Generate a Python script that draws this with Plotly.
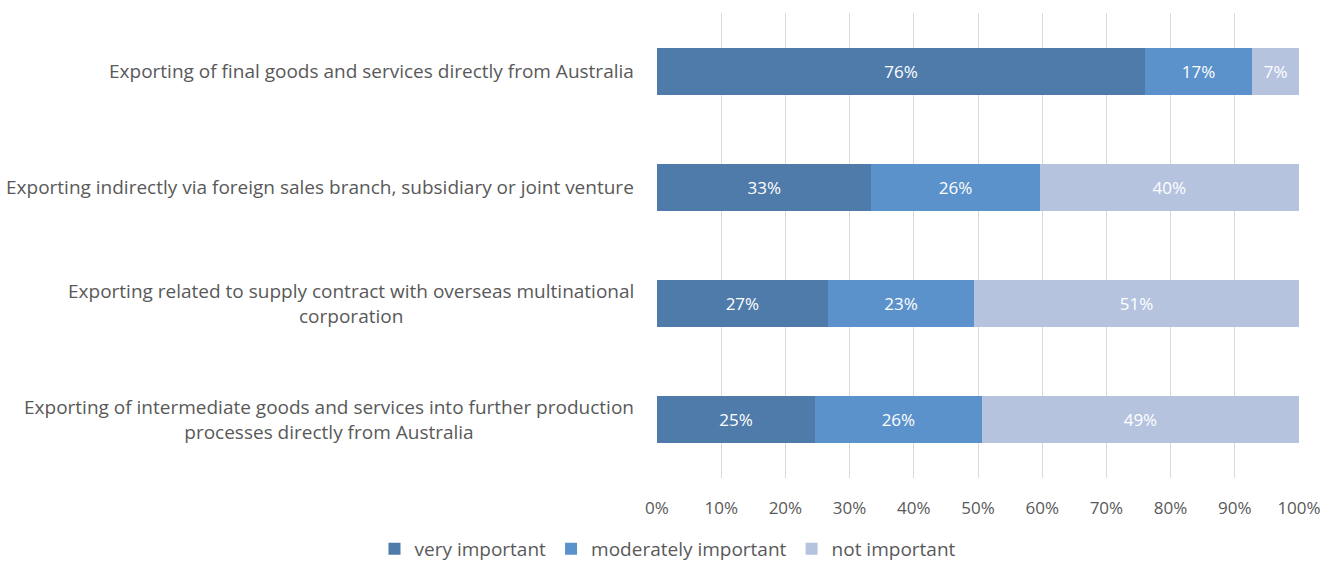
import plotly.graph_objects as go

# Export modes, top to bottom
categories = [
    "Exporting of final goods and services directly from Australia",
    "Exporting indirectly via foreign sales branch, subsidiary or joint venture",
    "Exporting related to supply contract with overseas multinational<br>corporation",
    "Exporting of intermediate goods and services into further production<br>processes directly from Australia",
]

# Share of respondents (%) per importance level
very_important = [76.0, 33.4, 26.6, 24.6]
moderately_important = [16.7, 26.2, 22.8, 26.0]
not_important = [7.3, 40.4, 50.6, 49.4]

series = [
    ("very important", very_important, "#4f7bab"),
    ("moderately important", moderately_important, "#5b92cb"),
    ("not important", not_important, "#b5c3df"),
]

ticks = [0, 10, 20, 30, 40, 50, 60, 70, 80, 90, 100]
tick_labels = [f"{t}%" for t in ticks]

FONT = "Open Sans, Calibri, sans-serif"
GREY = "#595959"

fig = go.Figure()
for name, vals, color in series:
    fig.add_trace(go.Bar(
        y=categories,
        x=vals,
        name=name,
        orientation="h",
        marker=dict(color=color, line=dict(width=0)),
        text=vals,
        texttemplate="%{x:.0f}%",
        textposition="inside",
        insidetextanchor="middle",
        textfont=dict(color="white", size=17, family=FONT),
        constraintext="none",
    ))

# Category labels drawn as centred multi-line annotations
for cat in categories:
    fig.add_annotation(
        x=0, xref="paper", y=cat, yref="y",
        text=cat, showarrow=False,
        xanchor="right", yanchor="middle", xshift=-21,
        align="center",
        font=dict(size=19, color=GREY, family=FONT),
    )

fig.update_layout(
    barmode="stack",
    bargap=0.595,
    width=1336, height=568,
    margin=dict(l=657, r=37, t=13, b=90),
    paper_bgcolor="white",
    plot_bgcolor="white",
    font=dict(family=FONT, color=GREY, size=16),
    legend=dict(
        orientation="h",
        xref="container", yref="container",
        x=0.5, xanchor="center", y=0.0, yanchor="bottom",
        font=dict(size=19, color=GREY, family=FONT),
        itemwidth=30,
        traceorder="normal",
    ),
    xaxis=dict(
        range=[0, 100],
        tickvals=ticks,
        ticktext=tick_labels,
        showgrid=True,
        gridcolor="#d9d9d9",
        gridwidth=1,
        zeroline=False,
        showline=False,
        ticks="",
        ticklabelstandoff=18,
        tickfont=dict(size=17, color=GREY, family=FONT),
    ),
    yaxis=dict(
        categoryorder="array",
        categoryarray=categories[::-1],
        showticklabels=False,
        showgrid=False,
        zeroline=False,
        showline=False,
        ticks="",
    ),
    showlegend=True,
)

fig.write_html("out.html")
